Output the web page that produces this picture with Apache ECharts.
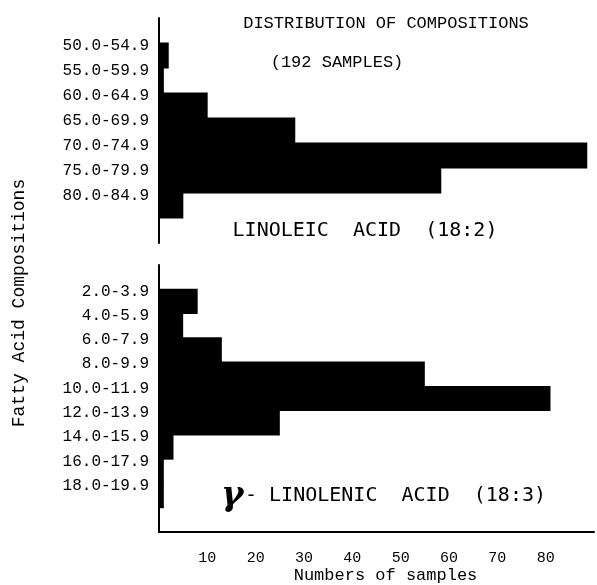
<!DOCTYPE html>
<html lang="en">
<head>
    <meta charset="UTF-8">
    <title>Distribution of compositions</title>
    <script src="https://cdn.jsdelivr.net/npm/echarts@6/dist/echarts.min.js"></script>
    <style>
        html, body { margin: 0; padding: 0; background: #fff; }
        #main { width: 597px; height: 585px; }
    </style>
</head>
<body>
    <div id="main"></div>
    <script>
        // linoleic acid (18:2)
        var linoleicBins = ['50.0-54.9', '55.0-59.9', '60.0-64.9', '65.0-69.9', '70.0-74.9', '75.0-79.9', '80.0-84.9'];
        var linoleicCounts = [2, 1, 10, 28, 88, 58, 5];
        // gamma-linolenic acid (18:3)
        var linolenicBins = ['2.0-3.9', '4.0-5.9', '6.0-7.9', '8.0-9.9', '10.0-11.9', '12.0-13.9', '14.0-15.9', '16.0-17.9', '18.0-19.9'];
        var linolenicCounts = [8, 5, 13, 55, 81, 25, 3, 1, 1];
        var xTicks = [10, 20, 30, 40, 50, 60, 70, 80];

        var mono = '"Liberation Mono", "DejaVu Sans Mono", monospace';

        // empty slot above and below each panel
        function pad(arr, v) { return [v].concat(arr, [v]); }

        var yAxisCommon = {
            type: 'category',
            inverse: true,
            boundaryGap: true,
            axisLine: { show: true, lineStyle: { color: '#000', width: 2 } },
            axisTick: { show: false },
            splitLine: { show: false },
            axisLabel: {
                color: '#000',
                fontFamily: mono,
                fontSize: 16,
                margin: 10,
                verticalAlign: 'bottom',
                lineHeight: 20   // labels sit near the top edge of their bin
            }
        };

        var chart = echarts.init(document.getElementById('main'));
        chart.setOption({
            animation: false,
            backgroundColor: '#fff',
            grid: [
                { left: 159, right: 0, top: 18, height: 225 },
                { left: 159, right: 0, top: 265, height: 270 }
            ],
            xAxis: [
                { gridIndex: 0, type: 'value', min: 0, max: 90, show: false },
                {
                    gridIndex: 1, type: 'value', min: 0, max: 90, interval: 10,
                    axisLine: { show: true, lineStyle: { color: '#000', width: 2 } },
                    axisTick: { show: false },
                    splitLine: { show: false },
                    axisLabel: {
                        color: '#000', fontFamily: mono, fontSize: 15, margin: 19,
                        formatter: function (v) { return xTicks.indexOf(v) >= 0 ? String(v) : ''; }
                    },
                    name: 'Numbers of samples',
                    nameLocation: 'middle',
                    nameGap: 35,
                    nameTextStyle: { color: '#000', fontFamily: mono, fontSize: 17, padding: [0, 0, 0, 18] }
                }
            ],
            yAxis: [
                Object.assign({ gridIndex: 0, data: pad(linoleicBins, '') }, yAxisCommon),
                Object.assign({ gridIndex: 1, data: pad(linolenicBins, '') }, yAxisCommon)
            ],
            series: [
                {
                    type: 'bar', xAxisIndex: 0, yAxisIndex: 0,
                    data: pad(linoleicCounts, null),
                    barWidth: '104%',   // slight overlap so neighbouring bins join without seams
                    itemStyle: { color: '#000' }
                },
                {
                    type: 'bar', xAxisIndex: 1, yAxisIndex: 1,
                    data: pad(linolenicCounts, null),
                    barWidth: '104%',
                    itemStyle: { color: '#000' }
                }
            ],
            graphic: [
                {
                    type: 'text', x: 386, y: 23,
                    style: { text: 'DISTRIBUTION OF COMPOSITIONS', font: '17px ' + mono, fill: '#000', align: 'center', verticalAlign: 'middle' }
                },
                {
                    type: 'text', x: 337, y: 62,
                    style: { text: '(192 SAMPLES)', font: '17px ' + mono, fill: '#000', align: 'center', verticalAlign: 'middle' }
                },
                {
                    type: 'text', x: 365, y: 231,
                    style: { text: 'LINOLEIC  ACID  (18:2)', font: '20px "DejaVu Sans Mono", monospace', fill: '#000', align: 'center', verticalAlign: 'middle' }
                },
                {
                    type: 'text', x: 221, y: 496,
                    style: { text: 'γ', font: 'italic bold 34px "DejaVu Serif", serif', fill: '#000', align: 'left', verticalAlign: 'middle' }
                },
                {
                    type: 'text', x: 245, y: 496,
                    style: { text: '- LINOLENIC  ACID  (18:3)', font: '20px "DejaVu Sans Mono", monospace', fill: '#000', align: 'left', verticalAlign: 'middle' }
                },
                {
                    type: 'text', x: 19, y: 303, rotation: Math.PI / 2,
                    style: { text: 'Fatty Acid Compositions', font: '18px ' + mono, fill: '#000', align: 'center', verticalAlign: 'middle' }
                }
            ]
        });
    </script>
</body>
</html>
